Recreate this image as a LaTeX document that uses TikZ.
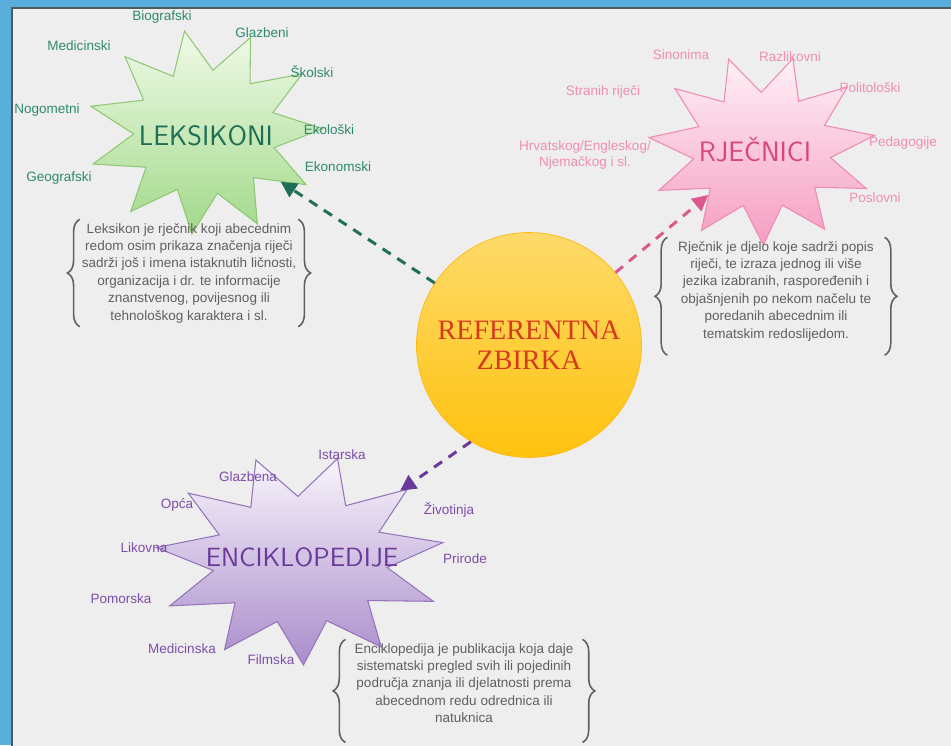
\documentclass[tikz,border=0pt]{standalone}
\usepackage{fontspec}
\setmainfont{Liberation Sans}
\newfontfamily\zbirkafont{Liberation Serif}
\usetikzlibrary{shapes.geometric,arrows.meta,decorations.pathreplacing}

\definecolor{bgBlue}{HTML}{5AAEDC}
\definecolor{canvasGray}{HTML}{EEEEEE}
\definecolor{frameGray}{HTML}{4F5A60}
\definecolor{descGray}{HTML}{606060}
\definecolor{leksDark}{HTML}{1F6E57}
\definecolor{leksText}{HTML}{2E8A6E}
\definecolor{leksLight}{HTML}{F0FAE8}
\definecolor{leksFill}{HTML}{A2D98A}
\definecolor{leksLine}{HTML}{8DC872}
\definecolor{rjecDark}{HTML}{D8457F}
\definecolor{rjecText}{HTML}{F08DB3}
\definecolor{rjecLight}{HTML}{FFF0F6}
\definecolor{rjecFill}{HTML}{F59DC1}
\definecolor{rjecLine}{HTML}{F08AB4}
\definecolor{enciDark}{HTML}{6A3A9A}
\definecolor{enciText}{HTML}{7D4DAA}
\definecolor{enciLight}{HTML}{F8F4FB}
\definecolor{enciFill}{HTML}{A98CCB}
\definecolor{enciLine}{HTML}{9474BB}
\definecolor{sunTop}{HTML}{FDDA6A}
\definecolor{sunBottom}{HTML}{FFC20E}
\definecolor{zbirkaRed}{HTML}{D63A1E}

\tikzset{
  burst/.style={star, star points=11, star point ratio=1.65, inner sep=0pt, line width=0.6pt},
  title/.style={font=\sffamily\fontsize{16}{18}\selectfont},
  lbl/.style={font=\fontsize{7.7}{9}\selectfont, align=center},
  desc/.style={font=\fontsize{7.7}{9.9}\selectfont, text=descGray, align=center, inner sep=2pt},
  brc/.style={draw=descGray, line width=0.9pt, decorate, decoration={brace, amplitude=7pt}},
  link/.style={line width=1.7pt, dash pattern=on 5.5pt off 4.5pt, -{Triangle[length=9pt,width=9pt]}}
}

\begin{document}
\begin{tikzpicture}[x=0.02cm, y=-0.02cm]
  \def\zbirkasize{4.5cm}
  \useasboundingbox (0,0) rectangle (951,745);
  \fill[bgBlue] (0,0) rectangle (951,745);
  \filldraw[fill=canvasGray, draw=frameGray, line width=1.2pt] (12,8) rectangle (965,760);

  \node[circle, minimum size=\zbirkasize, top color=sunTop, bottom color=sunBottom, draw=sunBottom!85!orange,
        font=\zbirkafont\fontsize{16}{17}\selectfont, text=zbirkaRed, align=center] (zbirka) at (529,345) {REFERENTNA\\ZBIRKA};

  \node[burst, minimum size=4.1cm, xscale=1.15, shape border rotate=10, top color=leksLight, bottom color=leksFill, draw=leksLine] (leksStar) at (205,132) {};
  \node[burst, minimum size=3.8cm, xscale=1.2, shape border rotate=17, top color=rjecLight, bottom color=rjecFill, draw=rjecLine] (rjecStar) at (762,150) {};
  \node[burst, minimum size=4.2cm, xscale=1.38, shape border rotate=-15, top color=enciLight, bottom color=enciFill, draw=enciLine] (enciStar) at (300,560) {};

  \node[title, text=leksDark] (leks) at (206,136) {LEKSIKONI};
  \node[title, text=rjecDark] (rjec) at (755,150) {RJEČNICI};
  \node[title, text=enciDark, font=\sffamily\fontsize{15}{17}\selectfont] (enci) at (302,557) {ENCIKLOPEDIJE};

  \draw[link, leksDark] (zbirka) -- (leksStar);
  \draw[link, rjecDark!90!white] (zbirka) -- (rjecStar);
  \draw[link, enciDark] (zbirka.239) -- (enciStar);

  \foreach \txt/\x/\y [count=\i] in {Biografski/162/17, Glazbeni/262/33, Medicinski/79/46, Školski/312/72,
      Nogometni/47/110, Ekološki/329/130, Ekonomski/338/167, Geografski/59/178}
    \node[lbl, text=leksText] (leksLab\i) at (\x,\y) {\txt};
  \foreach \txt/\x/\y [count=\i] in {Sinonima/681/55, Razlikovni/790/57, Stranih riječi/603/92,
      Politološki/870/88, Pedagogije/903/143, Poslovni/875/198}
    \node[lbl, text=rjecText] (rjecLab\i) at (\x,\y) {\txt};
  \node[lbl, text=rjecText] (rjecLab7) at (585,155) {Hrvatskog/Engleskog/\\Njemačkog i sl.};
  \foreach \txt/\x/\y [count=\i] in {Istarska/342/455, Glazbena/248/477, Opća/177/505, Životinja/449/510,
      Likovna/144/548, Prirode/465/559, Pomorska/121/599, Medicinska/182/649, Filmska/271/660}
    \node[lbl, text=enciText] (enciLab\i) at (\x,\y) {\txt};

  \node[desc, inner xsep=1pt] (leksDesc) at (189,273) {Leksikon je rječnik koji abecednim\\redom osim prikaza značenja riječi\\sadrži još i imena istaknutih ličnosti,\\organizacija i dr. te informacije\\znanstvenog, povijesnog ili\\tehnološkog karaktera i sl.};
  \node[desc, inner xsep=6pt] (rjecDesc) at (776,291) {Rječnik je djelo koje sadrži popis\\riječi, te izraza jednog ili više\\jezika izabranih, raspoređenih i\\objašnjenih po nekom načelu te\\poredanih abecednim ili\\tematskim redoslijedom.};
  \node[desc, inner xsep=5pt] (enciDesc) at (464,683) {Enciklopedija je publikacija koja daje\\sistematski pregled svih ili pojedinih\\područja znanja ili djelatnosti prema\\abecednom redu odrednica ili\\natuknica};

  \foreach \d/\ext in {leksDesc/0pt, rjecDesc/6pt, enciDesc/9pt} {
    \draw[brc] ([yshift=-\ext]\d.south west) -- (\d.north west);
    \draw[brc] (\d.north east) -- ([yshift=-\ext]\d.south east);
  }
\end{tikzpicture}
\end{document}
